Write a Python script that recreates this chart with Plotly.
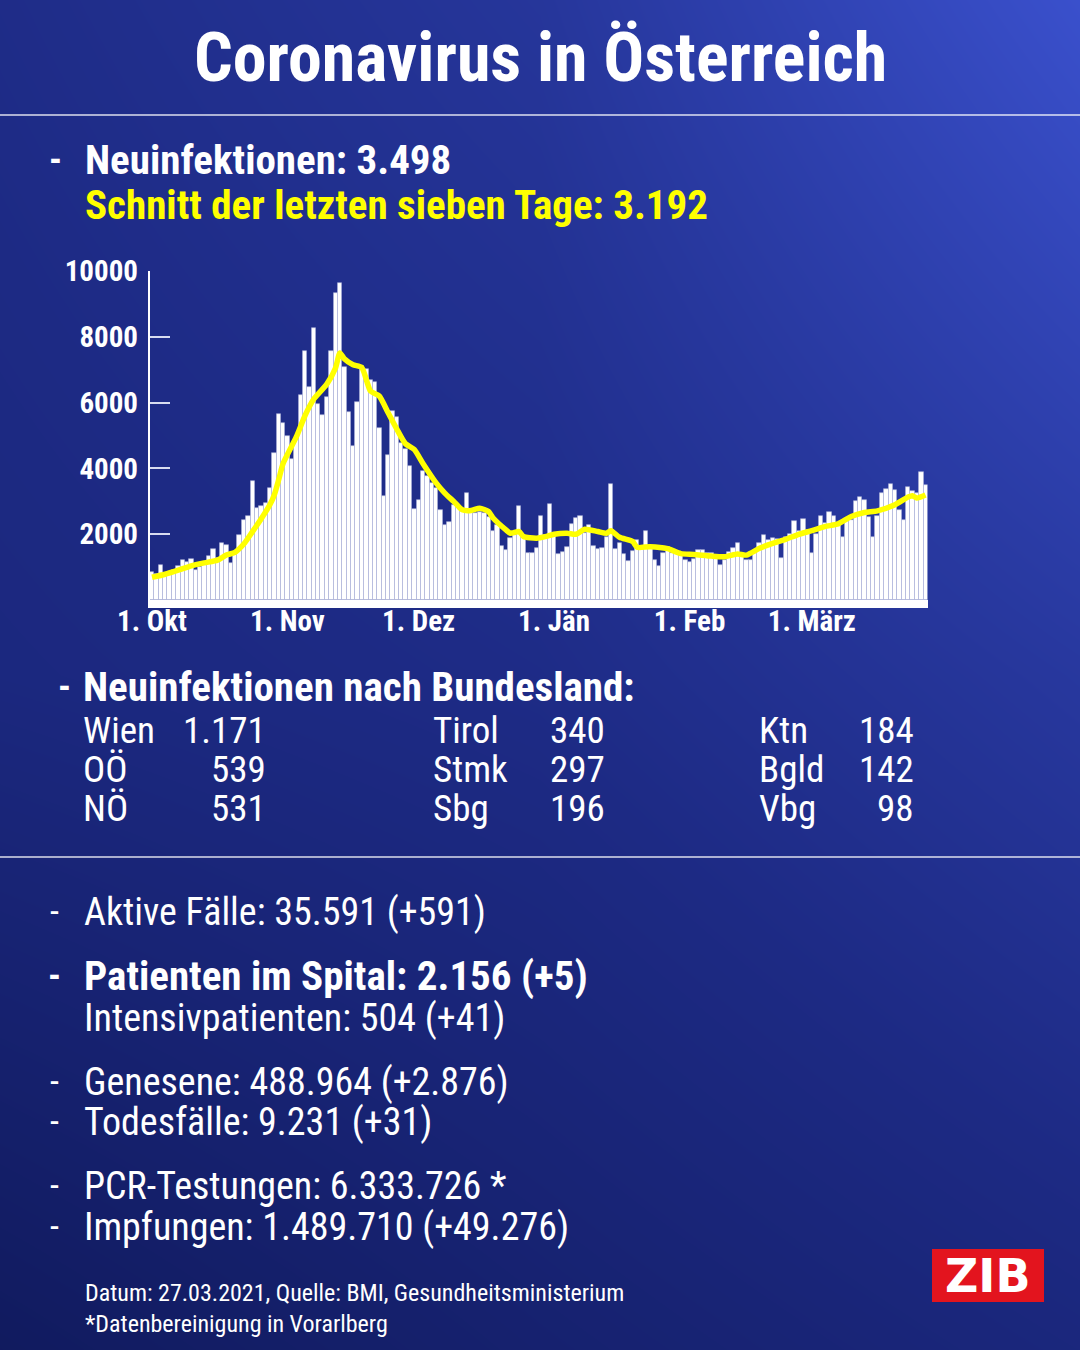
import pandas as pd
import plotly.graph_objects as go

# Tägliche Neuinfektionen ab 1. Okt 2020
cases = [
    855, 783, 1050, 806, 855, 906, 1028, 1212, 1161, 1233,
    906, 1008, 1110, 1335, 1549, 1264, 1742, 1671, 1130, 1467,
    1968, 2436, 2568, 3629, 2795, 2850, 2950, 3405, 4477, 5649,
    5373, 4985, 4300, 4900, 6230, 7555, 6487, 8271, 5955, 5618,
    6160, 7555, 9321, 9636, 7096, 5701, 4682, 6007, 7108, 7026,
    6698, 6637, 5242, 3149, 4394, 5750, 5548, 4783, 4578, 4070,
    2763, 3048, 3914, 3761, 3559, 3405, 2742, 2283, 2384, 2895,
    2864, 2742, 3253, 2742, 2641, 2662, 2641, 2519, 2099, 2283,
    1649, 1518, 1876, 1977, 2864, 1946, 1435, 1415, 1570, 2558,
    1977, 2917, 1977, 1395, 1466, 1619, 2313, 2488, 2540, 2029,
    2283, 1649, 1539, 1570, 1925, 3528, 1539, 1723, 1395, 1181,
    1487, 1824, 1619, 2099, 1619, 1212, 1028, 1415, 1619, 1435,
    1416, 1400, 1212, 1141, 1242, 1518, 1518, 1416, 1416, 1380,
    1059, 1212, 1469, 1570, 1741, 1365, 1212, 1230, 1469, 1741,
    1977, 1824, 1876, 1845, 1282, 1900, 1998, 2405, 2099, 2466,
    2130, 1416, 1998, 2558, 2335, 2671, 2558, 2335, 1925, 2436,
    2436, 2996, 3130, 3029, 2518, 1906, 2558, 3253, 3384, 3528,
    3354, 2742, 2436, 3424, 3323, 3253, 3895, 3498,
]

# 7-Tage-Schnitt (gelbe Linie), Tag ab 1. Okt -> Wert
avg_day = [0, 3, 6, 9, 12, 15, 17, 19, 21, 23, 25, 27, 28, 29, 30, 33, 35, 37, 40,
           42, 43, 44, 46, 48, 50, 52, 54, 56, 58, 60, 62, 65, 67, 69, 71, 73, 75,
           77, 78, 81, 82, 84, 85, 88, 90, 92, 95, 97, 99, 102, 104, 105, 107, 110,
           111, 114, 118, 121, 124, 128, 131, 134, 136, 139, 142, 145, 148, 151,
           154, 157, 160, 163, 166, 170, 173, 174, 175, 177]
avg_value = [690, 783, 906, 1039, 1130, 1212, 1365, 1450, 1700, 2080, 2470, 2900, 3200,
             3660, 4150, 4950, 5600, 6100, 6560, 7050, 7510, 7330, 7150, 7070, 6350,
             6200, 5700, 5200, 4750, 4580, 4150, 3560, 3250, 3000, 2740, 2720, 2790,
             2690, 2500, 2130, 2030, 2080, 1930, 1880, 1925, 1998, 2029, 1998, 2150,
             2080, 2029, 2108, 1906, 1775, 1600, 1622, 1560, 1410, 1386, 1334, 1314,
             1396, 1365, 1570, 1723, 1845, 1998, 2108, 2231, 2313, 2537, 2659, 2711,
             2895, 3130, 3170, 3100, 3192]

month_ticks = ["2020-10-01", "2020-11-01", "2020-12-01", "2021-01-01", "2021-02-01", "2021-03-01"]
month_labels = ["1. Okt", "1. Nov", "1. Dez", "1. Jän", "1. Feb", "1. März"]
y_ticks = [2000, 4000, 6000, 8000, 10000]

states = ["Wien", "OÖ", "NÖ", "Tirol", "Stmk", "Sbg", "Ktn", "Bgld", "Vbg"]
state_cases = [1171, 539, 531, 340, 297, 196, 184, 142, 98]

W, H = 1080, 1350
FONT = "Liberation Sans Narrow, Roboto Condensed, Roboto, sans-serif"
YELLOW = "#ffff00"


def px(x):
    return x / W


def py(y):
    return 1 - y / H


def de(n):
    return f"{n:,}".replace(",", ".")


start = pd.Timestamp("2020-10-01")
days = pd.date_range(start, periods=len(cases), freq="D")
avg_dates = [start + pd.Timedelta(days=d) for d in avg_day]

fig = go.Figure()

# Hintergrund-Verlauf (dunkel unten links -> hell oben rechts)
fig.add_trace(go.Heatmap(
    z=[[0.10, 0.25, 0.38], [0.40, 0.47, 0.65], [0.48, 0.62, 1.0]],
    x=[0, 0.5, 1], y=[0, 0.5, 1], zmin=0, zmax=1, zsmooth="best",
    colorscale=[[0, "#0d1654"], [0.45, "#1d2a84"], [1, "#3a50cc"]],
    showscale=False, hoverinfo="skip", xaxis="x", yaxis="y"))

fig.add_trace(go.Bar(
    x=days, y=cases, xaxis="x2", yaxis="y2", showlegend=False,
    marker=dict(color="white", line=dict(color="#aab0d8", width=0.6)),
    hovertemplate="%{x|%d.%m.%Y}: %{y}<extra></extra>"))
fig.add_trace(go.Scatter(
    x=avg_dates, y=avg_value, mode="lines", xaxis="x2", yaxis="y2", showlegend=False,
    line=dict(color=YELLOW, width=5.5, shape="spline", smoothing=0.6),
    hovertemplate="Schnitt: %{y}<extra></extra>"))

ann = []


def note(x, y, text, size, color="white", bold=False, anchor="left", family=FONT):
    ann.append(dict(x=px(x), y=py(y), xref="paper", yref="paper", text=text,
                    showarrow=False, xanchor=anchor, yanchor="middle", align=anchor if anchor != "center" else "center",
                    font=dict(family=family, size=size, color=color,
                              weight=700 if bold else 400)))


note(540, 58, "Coronavirus in Österreich", 68, bold=True, anchor="center")

note(55, 160, "-", 36, bold=True, anchor="center")
note(83, 160, f"Neuinfektionen: {de(cases[-1])}", 41, bold=True)
note(83, 205, f"Schnitt der letzten sieben Tage: {de(avg_value[-1])}", 41, color=YELLOW, bold=True)

note(64, 687, "-", 36, bold=True, anchor="center")
note(81, 687, "Neuinfektionen nach Bundesland:", 41, bold=True)
name_x = [81, 431, 757]
num_x = [268, 607, 916]
row_y = [730, 769, 808]
for i, (s, v) in enumerate(zip(states, state_cases)):
    c, r = divmod(i, 3)
    note(name_x[c], row_y[r], s, 37)
    note(num_x[c], row_y[r], de(v), 37, anchor="right")

stats = [
    (912, True, "Aktive Fälle: 35.591 (+591)", False),
    (976, True, "Patienten im Spital: 2.156 (+5)", True),
    (1018, False, "Intensivpatienten: 504 (+41)", False),
    (1082, True, "Genesene: 488.964 (+2.876)", False),
    (1122, True, "Todesfälle: 9.231 (+31)", False),
    (1186, True, "PCR-Testungen: 6.333.726 *", False),
    (1227, True, "Impfungen: 1.489.710 (+49.276)", False),
]
for y, dash, text, bold in stats:
    if dash:
        note(54, y, "-", 36, bold=bold, anchor="center")
    note(82, y, text, 41 if bold else 38, bold=bold)

note(83, 1308.5, "Datum: 27.03.2021, Quelle: BMI, Gesundheitsministerium<br>"
     "*Datenbereinigung in Vorarlberg", 24)
note(988, 1276, "ZIB", 46, bold=True, anchor="center", family="DejaVu Sans, sans-serif")

shapes = [
    dict(type="line", xref="paper", yref="paper", x0=0, x1=1, y0=py(115), y1=py(115),
         line=dict(color="rgba(255,255,255,0.85)", width=1.5), layer="above"),
    dict(type="line", xref="paper", yref="paper", x0=0, x1=1, y0=py(857), y1=py(857),
         line=dict(color="rgba(255,255,255,0.85)", width=1.5), layer="above"),
    dict(type="rect", xref="paper", yref="paper", x0=px(932), x1=px(1044),
         y0=py(1302), y1=py(1249), fillcolor="#e3141e", line=dict(width=0), layer="above"),
]

fig.update_layout(
    template="none",
    width=W, height=H, margin=dict(l=0, r=0, t=0, b=0, pad=0), autosize=False,
    paper_bgcolor="#1a2678", plot_bgcolor="rgba(0,0,0,0)",
    bargap=0, showlegend=False, annotations=ann, shapes=shapes,
    xaxis=dict(domain=[0, 1], range=[0, 1], visible=False, fixedrange=True, automargin=False),
    yaxis=dict(domain=[0, 1], range=[0, 1], visible=False, fixedrange=True, automargin=False),
    xaxis2=dict(
        domain=[px(149.8), px(927.7)], anchor="y2", type="date", automargin=False,
        range=[start - pd.Timedelta(hours=12), days[-1] + pd.Timedelta(hours=12)],
        tickvals=month_ticks, ticktext=month_labels, ticks="", showgrid=False,
        zeroline=False, showline=True, linecolor="white", linewidth=8,
        tickfont=dict(family=FONT, size=29, color="white", weight=700),
        ticklabelstandoff=-12),
    yaxis2=dict(
        domain=[py(600), py(271)], anchor="x2", range=[0, 10000], automargin=False,
        tickvals=y_ticks, tickformat="d", ticks="inside", ticklen=20, tickwidth=2,
        tickcolor="#d8dcf0", showline=True, linecolor="white", linewidth=2,
        showgrid=False, zeroline=False,
        tickfont=dict(family=FONT, size=29, color="white", weight=700),
        ticklabelstandoff=4),
)

fig.write_html("out.html", config={"displayModeBar": False},
               post_script="document.body.style.margin='0';")
